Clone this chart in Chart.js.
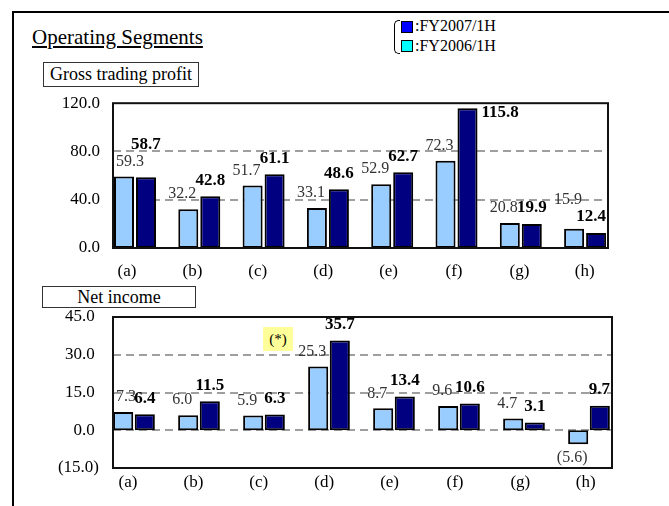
<!DOCTYPE html>
<html><head><meta charset="utf-8">
<script src="https://cdn.jsdelivr.net/npm/chart.js@4/dist/chart.umd.min.js"></script>
<style>
html,body{margin:0;padding:0;background:#fff;}
body{width:669px;height:506px;position:relative;overflow:hidden;font-family:"Liberation Serif","Times New Roman",serif;color:#000;}
.abs{position:absolute;}
#frame{left:12px;top:11px;width:720px;height:493px;border-top:2px solid #000;border-left:2px solid #000;}
#title{left:32px;top:27px;font-size:21px;line-height:20px;text-decoration:underline;white-space:nowrap;}
.box{border:1px solid #333;background:#fff;text-align:center;white-space:nowrap;z-index:2;}
#box1{left:43px;top:62px;width:154px;height:23px;font-size:18px;line-height:23px;}
#box2{left:42px;top:286px;width:152px;height:20px;font-size:18px;line-height:20px;}
#bracket{left:394px;top:20px;width:5px;height:32px;border:1px solid #000;border-right:none;border-radius:5px 0 0 5px;}
.sw{width:10px;height:10px;border:1px solid #000;}
#sw1{left:401px;top:21px;background:#0000ff;}
#sw2{left:401px;top:40px;background:#00ffff;}
.lt{font-size:16px;line-height:16px;white-space:nowrap;}
#lt1{left:415px;top:18px;}
#lt2{left:415px;top:38px;}
#note{left:263px;top:327px;width:30px;height:24px;background:#ffff99;font-size:15px;line-height:24px;text-align:center;z-index:2;}
canvas{position:absolute;left:0;}
#c1{top:80px;}
#c2{top:290px;}
</style></head><body>
<div id="frame" class="abs"></div>
<div id="title" class="abs">Operating Segments</div>
<div id="bracket" class="abs"></div>
<div id="sw1" class="abs sw"></div>
<div id="lt1" class="abs lt">:FY2007/1H</div>
<div id="sw2" class="abs sw"></div>
<div id="lt2" class="abs lt">:FY2006/1H</div>
<div id="box1" class="abs box">Gross trading profit</div>
<div id="box2" class="abs box">Net income</div>
<div id="note" class="abs">(*)</div>
<canvas id="c1" width="620" height="208"></canvas>
<canvas id="c2" width="624" height="208"></canvas>
<script>
const categories = ['(a)','(b)','(c)','(d)','(e)','(f)','(g)','(h)'];
const seriesNames = ['FY2006/1H','FY2007/1H'];
const grossFY2006 = [59.3, 32.2, 51.7, 33.1, 52.9, 72.3, 20.8, 15.9];
const grossFY2007 = [58.7, 42.8, 61.1, 48.6, 62.7, 115.8, 19.9, 12.4];
const netFY2006 = [7.3, 6.0, 5.9, 25.3, 8.7, 9.6, 4.7, -5.6];
const netFY2007 = [6.4, 11.5, 6.3, 35.7, 13.4, 10.6, 3.1, 9.7];
const grossTicks = [0, 40, 80, 120];
const netTicks = [-15, 0, 15, 30, 45];

const FAMILY = "'Liberation Serif','Times New Roman',serif";
Chart.defaults.font.family = FAMILY;
Chart.defaults.color = '#000';

function fmt(v){ return v < 0 ? '(' + Math.abs(v).toFixed(1) + ')' : v.toFixed(1); }

const frameGrid = {
  id: 'frameGrid',
  beforeDatasetsDraw(chart){
    const {ctx, chartArea: a} = chart, y = chart.scales.y;
    ctx.save();
    ctx.strokeStyle = '#808080'; ctx.lineWidth = 1.5; ctx.setLineDash([8,5]);
    y.ticks.forEach(t => {
      if (t.value > y.min && t.value < y.max) {
        const py = Math.round(y.getPixelForValue(t.value));
        ctx.beginPath(); ctx.moveTo(a.left, py); ctx.lineTo(a.right, py); ctx.stroke();
      }
    });
    ctx.restore();
  },
  afterDatasetsDraw(chart){
    const {ctx, chartArea: a} = chart;
    ctx.save();
    ctx.strokeStyle = '#111'; ctx.lineWidth = 2;
    ctx.strokeRect(a.left, a.top, a.right - a.left, a.bottom - a.top);
    ctx.restore();
  }
};

const LIGHT_FONT = "16px " + FAMILY;
const DARK_FONT = "bold 17px " + FAMILY;
const barLabels = {
  id: 'barLabels',
  afterDatasetsDraw(chart){
    const ctx = chart.ctx, a = chart.chartArea;
    const light = chart.getDatasetMeta(0).data, dark = chart.getDatasetMeta(1).data;
    const d0 = chart.data.datasets[0].data, d1 = chart.data.datasets[1].data;
    ctx.save();
    ctx.textBaseline = 'middle';
    light.forEach((bl, i) => {
      const vl = d0[i].y, vd = d1[i].y, bd = dark[i];
      ctx.font = LIGHT_FONT;
      const tl = fmt(vl), wl = ctx.measureText(tl).width;
      let lx = Math.max(bl.x - 6, a.left + 3 + wl/2);
      let ly = vl >= 0 ? bl.y - 15 : bl.y + 13;
      ctx.font = DARK_FONT;
      const td = fmt(vd), wd = ctx.measureText(td).width;
      let dx = Math.min(bd.x, a.right - 2 - wd/2);
      let dy = vd >= 0 ? bd.y - 16 : bd.y + 13;
      let dAlign = 'center';
      if (dy - 7 < a.top - 2) {
        dAlign = 'left'; dx = bd.x + bd.width/2 + 4; dy = bd.y + 4;
      } else {
        const ov = Math.min(lx + wl/2, dx + wd/2) - Math.max(lx - wl/2, dx - wd/2);
        if (ov > 3 && Math.abs(dy - ly) < 16) {
          if (Math.abs(vd) < Math.abs(vl) * 0.9) ly = dy - 17; else dy = ly - 17;
        }
      }
      ctx.font = LIGHT_FONT; ctx.fillStyle = '#333'; ctx.textAlign = 'center';
      ctx.fillText(tl, lx, ly);
      ctx.font = DARK_FONT; ctx.fillStyle = '#000'; ctx.textAlign = dAlign;
      ctx.fillText(td, dx, dy);
    });
    ctx.restore();
  }
};

function makeChart(id, lightVals, darkVals, ticks, cfg){
  const toPts = vals => vals.map((v, i) => ({x: i, y: v}));
  return new Chart(document.getElementById(id), {
    type: 'bar',
    data: {
      datasets: [
        {label: seriesNames[0], data: toPts(lightVals), backgroundColor: '#99CCFF', borderColor: '#000', borderWidth: 2, borderSkipped: false, xAxisID: 'x', categoryPercentage: cfg.cp, barPercentage: cfg.bp},
        {label: seriesNames[1], data: toPts(darkVals), backgroundColor: '#000080', borderColor: '#000', borderWidth: 2, borderSkipped: false, xAxisID: 'x', categoryPercentage: cfg.cp, barPercentage: cfg.bp}
      ]
    },
    options: {
      responsive: false, animation: false, devicePixelRatio: 1,
      layout: {padding: {top: cfg.padTop, right: cfg.padRight, left: 0, bottom: 0}},
      plugins: {legend: {display: false}, tooltip: {enabled: false}},
      scales: {
        x: {type: 'linear', display: false, offset: false, min: cfg.xMin, max: cfg.xMax},
        x2: {
          type: 'linear', position: 'bottom', offset: false, min: cfg.lMin, max: cfg.lMax,
          grid: {display: false, drawTicks: false}, border: {display: false},
          afterBuildTicks: s => { s.ticks = categories.map((c, i) => ({value: i})); },
          afterFit: s => { s.height = cfg.xH; },
          ticks: {callback: v => categories[v], autoSkip: false, maxRotation: 0, padding: cfg.xPad, font: {size: 17, family: FAMILY}, color: '#000'}
        },
        y: {
          type: 'linear', min: ticks[0], max: ticks[ticks.length - 1],
          grid: {display: false, drawTicks: false}, border: {display: false},
          afterBuildTicks: s => { s.ticks = ticks.map(v => ({value: v})); },
          afterFit: s => { s.width = 113; },
          ticks: {callback: v => v < 0 ? fmt(v) : fmt(v) + cfg.suffix, padding: cfg.yPad, font: {size: 17, family: FAMILY}, color: '#000'}
        }
      }
    },
    plugins: [frameGrid, barLabels]
  });
}

makeChart('c1', grossFY2006, grossFY2007, grossTicks,
  {cp: 0.684, bp: 0.91, padTop: 19, padRight: 12, xMin: -0.342, xMax: 7.356, lMin: -0.214, lMax: 7.355, xH: 40, xPad: 13, yPad: 13, suffix: ''});
makeChart('c2', netFY2006, netFY2007, netTicks,
  {cp: 0.665, bp: 0.93, padTop: 27, padRight: 12, xMin: -0.323, xMax: 7.354, lMin: -0.229, lMax: 7.401, xH: 30, xPad: 4, yPad: 14, suffix: ' '});
</script>
</body></html>
